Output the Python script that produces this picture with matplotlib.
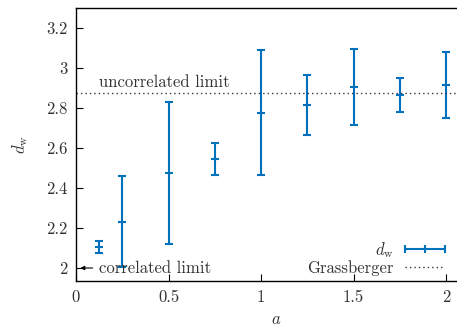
import numpy as np
import matplotlib
matplotlib.use('Agg')
import matplotlib.pyplot as plt
from matplotlib.lines import Line2D

plt.rcParams['font.family'] = ['cmr10']
plt.rcParams['mathtext.fontset'] = 'cm'
plt.rcParams['axes.formatter.use_mathtext'] = True

a = [0.125, 0.25, 0.5, 0.75, 1.0, 1.25, 1.5, 1.75, 2.0]
dw = [2.105, 2.232, 2.475, 2.547, 2.777, 2.815, 2.903, 2.865, 2.916]
dw_err = [0.028, 0.229, 0.355, 0.080, 0.311, 0.152, 0.190, 0.083, 0.164]
grassberger = 2.875

blue = '#0072BD'
grey = '#333333'

fig = plt.figure(figsize=(4.57, 3.29), dpi=100)
ax = fig.add_axes([76 / 457, 48 / 329, 400 / 457, 273 / 329])

ax.errorbar(a, dw, yerr=dw_err, color=blue, lw=1.5, fmt='_', ms=6, mew=1.5,
            capsize=3, capthick=1.5, ecolor=blue)
ax.axhline(grassberger, color=grey, lw=1.0, ls=(0, (1, 2.2)))

ax.text(0.125, 2.888, 'uncorrelated limit', fontsize=12, color=grey, va='bottom')
ax.annotate('', xy=(0.008, 2.0), xytext=(0.105, 2.0),
            arrowprops=dict(arrowstyle='-|>', color='k', lw=0.8, mutation_scale=6))
ax.text(0.125, 2.0, 'correlated limit', fontsize=12, color=grey, va='center')

ax.set_xlim(0, 2.162)
ax.set_ylim(1.935, 3.3)
ax.set_xticks([0, 0.5, 1, 1.5, 2])
ax.set_xticklabels(['0', '0.5', '1', '1.5', '2'])
ax.set_yticks([2, 2.2, 2.4, 2.6, 2.8, 3, 3.2])
ax.set_yticklabels(['2', '2.2', '2.4', '2.6', '2.8', '3', '3.2'])
ax.tick_params(direction='in', length=5, width=0.8, labelsize=12, colors='k',
               labelcolor=grey, pad=6)
ax.spines['right'].set_visible(False)
for s in ['left', 'bottom', 'top']:
    ax.spines[s].set_linewidth(1.0)

ax.set_xlabel('$a$', fontsize=12, color=grey, labelpad=5)
ax.set_ylabel(r'$d_\mathrm{w}$', fontsize=12, color=grey, labelpad=12)

h1 = Line2D([0], [0], color=blue, lw=1.5, marker='|', ms=6, mew=1.5)
h2 = Line2D([0], [0], color=grey, lw=1.0, ls=(0, (1, 2.2)))
ax.legend([h1, h2], [r'$d_\mathrm{w}$', 'Grassberger'], loc='lower right',
          bbox_to_anchor=(0.965, -0.024), frameon=False, markerfirst=False,
          numpoints=3, fontsize=12, handlelength=3.0, handletextpad=0.4,
          labelspacing=0.0, borderpad=0.2, labelcolor=grey)

fig.savefig('out.png', dpi=100)
